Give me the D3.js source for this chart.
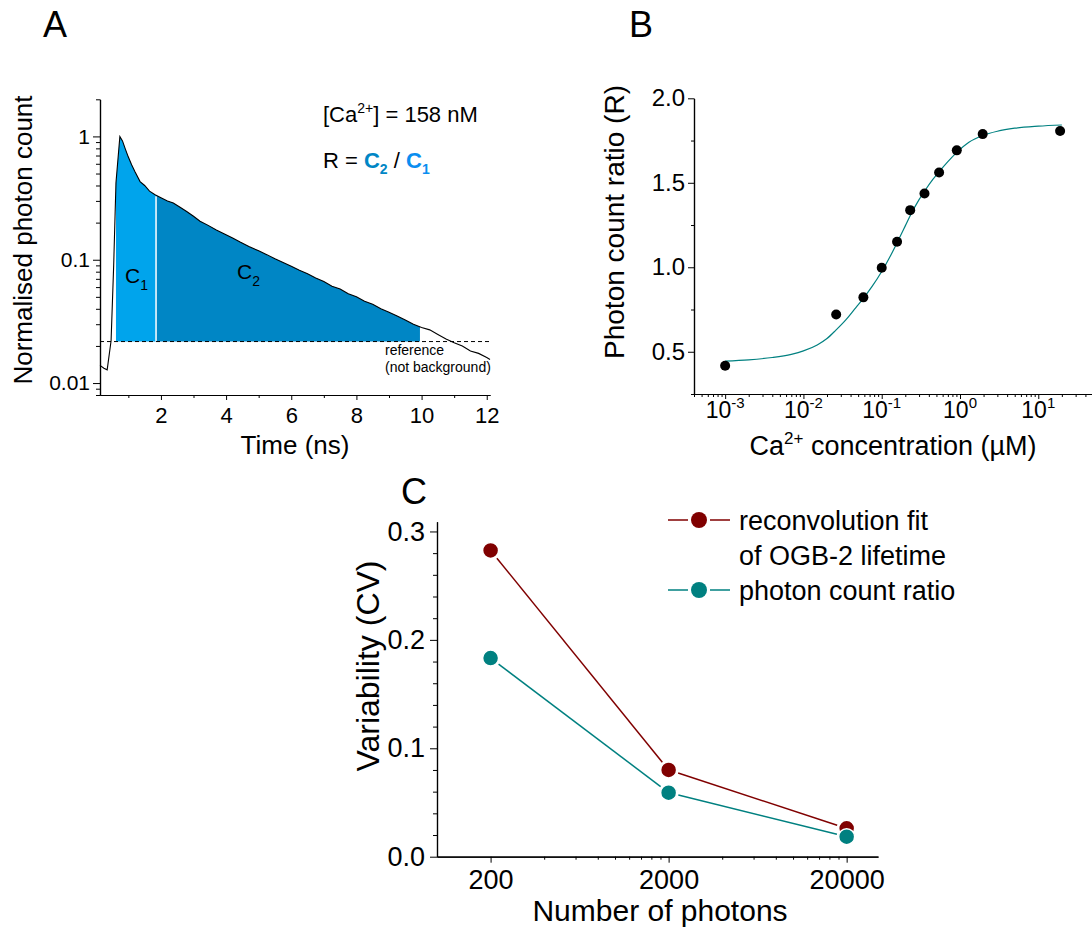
<!DOCTYPE html>
<html><head><meta charset="utf-8">
<script src="https://cdn.jsdelivr.net/npm/d3@7"></script>
<style>
body{margin:0;background:#fff}
svg{display:block}
text{font-family:"Liberation Sans",Arial,Helvetica,sans-serif;fill:#000}
</style>
</head><body>
<svg id="chart" width="1092" height="933"></svg>
<script>
// ---------------- Panel A data ----------------
const decayTime = [0.13,0.25,0.35,0.47,0.55,0.62,0.74,0.82,0.9,1.0,1.1,1.2,1.36,1.5,1.65,1.82,2.0,2.2,2.38,2.6,2.79,3.0,3.2,3.45,3.7,3.95,4.2,4.43,4.7,5.0,5.25,5.5,5.75,6.0,6.25,6.5,6.75,7.0,7.25,7.5,7.75,8.0,8.25,8.5,8.75,9.0,9.25,9.5,9.75,10.0,10.25,10.5,10.75,11.0,11.25,11.5,11.75,12.0,12.1];
const decayCount = [0.0139,0.0132,0.0128,0.022,0.09,0.42,1.0,0.92,0.80,0.68,0.59,0.52,0.43,0.40,0.36,0.336,0.318,0.30,0.288,0.265,0.246,0.225,0.205,0.19,0.174,0.162,0.15,0.139,0.128,0.118,0.110,0.102,0.095,0.0886,0.082,0.077,0.071,0.0665,0.061,0.058,0.053,0.050,0.046,0.0435,0.040,0.0375,0.035,0.0325,0.030,0.0282,0.027,0.0248,0.0228,0.0212,0.020,0.0182,0.0174,0.0161,0.0155];
const referenceLevel = 0.0217;
const c1Window = [0.62, 1.85];
const c2Window = [1.85, 9.95];
const timeTicks = [2,4,6,8,10,12];
const timeMinorTicks = [1,3,5,7,9,11];
const countTicks = [0.01,0.1,1];
const countTickLabels = ["0.01","0.1","1"];
const countMinorTicks = [0.008,0.009,0.02,0.03,0.04,0.05,0.06,0.07,0.08,0.09,0.2,0.3,0.4,0.5,0.6,0.7,0.8,0.9,2];

// ---------------- Panel B data ----------------
const caConc = [0.001,0.0262,0.0583,0.1,0.157,0.231,0.352,0.541,0.91,1.95,19];
const countRatio = [0.417,0.721,0.822,0.997,1.151,1.338,1.437,1.561,1.692,1.788,1.806];
const fitConc = [0.001,0.002,0.004,0.007,0.01,0.015,0.02,0.026,0.035,0.045,0.058,0.075,0.1,0.13,0.157,0.2,0.231,0.3,0.352,0.45,0.541,0.7,0.91,1.3,1.95,3,5,10,20];
const fitRatio = [0.445,0.452,0.466,0.485,0.505,0.54,0.578,0.628,0.69,0.752,0.815,0.885,0.975,1.07,1.145,1.245,1.305,1.40,1.45,1.52,1.565,1.625,1.68,1.74,1.78,1.805,1.823,1.835,1.842];
const ratioTicks = [0.5,1.0,1.5,2.0];
const ratioMinorTicks = [0.25,0.75,1.25,1.75];
const concTickExponents = [-3,-2,-1,0,1];

// ---------------- Panel C data ----------------
const photonCounts = [200,2000,20000];
const cvReconvolution = [0.2825,0.080,0.0262];
const cvPhotonRatio = [0.1832,0.0591,0.0185];
const cvTicks = [0.0,0.1,0.2,0.3];
const cvMinorTicks = [0.02,0.04,0.06,0.08,0.12,0.14,0.16,0.18,0.22,0.24,0.26,0.28];
const photonTicks = [200,2000,20000];
const photonMinorTicks = [400,600,800,1000,1200,1400,1600,1800,4000,6000,8000,10000,12000,14000,16000,18000];
const seriesNames = [["reconvolution fit","of OGB-2 lifetime"],["photon count ratio"]];

// colours
const lightBlue = "#00A4EC", darkBlue = "#0086C5";
const darkRed = "#800000", teal = "#008080";

const svg = d3.select("#chart");
const FONT = '"Liberation Sans",Arial,sans-serif';

function styleAxis(g, fs){
  g.selectAll("path.domain").attr("stroke","#000").attr("stroke-width",1.2);
  g.selectAll(".tick line").attr("stroke","#000").attr("stroke-width",1);
  g.selectAll(".tick text").attr("font-size",fs).attr("font-family",FONT).attr("fill","#000");
  g.attr("font-family",FONT);
}

// ============ PANEL A ============
{
  const x = d3.scaleLinear().domain([0.13,12.1]).range([100,490]);
  const y = d3.scaleLog().domain([0.008,2]).range([395,99.3]);
  const g = svg.append("g");

  const interp = t => {
    for(let i=0;i<decayTime.length-1;i++){
      if(t>=decayTime[i] && t<=decayTime[i+1]){
        const f=(t-decayTime[i])/(decayTime[i+1]-decayTime[i]);
        return Math.exp(Math.log(decayCount[i])+f*(Math.log(decayCount[i+1])-Math.log(decayCount[i])));
      }
    }
    return decayCount[decayCount.length-1];
  };
  const windowPts = ([t0,t1]) => {
    const p=[[t0,interp(t0)]];
    decayTime.forEach((t,i)=>{ if(t>t0 && t<t1) p.push([t,decayCount[i]]); });
    p.push([t1,interp(t1)]);
    return p;
  };
  const area = d3.area().x(d=>x(d[0])).y0(y(referenceLevel)).y1(d=>y(d[1]));
  g.append("path").attr("d",area(windowPts(c1Window))).attr("fill",lightBlue);
  g.append("path").attr("d",area(windowPts(c2Window))).attr("fill",darkBlue);
  g.append("line").attr("x1",x(c1Window[1])).attr("x2",x(c1Window[1]))
    .attr("y1",y(referenceLevel)).attr("y2",y(interp(c1Window[1]))+1)
    .attr("stroke","#fff").attr("stroke-width",1.5);

  // reference dashed line
  g.append("line").attr("x1",x.range()[0]).attr("x2",x.range()[1])
    .attr("y1",y(referenceLevel)).attr("y2",y(referenceLevel))
    .attr("stroke","#000").attr("stroke-width",1).attr("stroke-dasharray","4,3");

  // decay curve
  const line = d3.line().x((d,i)=>x(decayTime[i])).y(d=>y(d));
  g.append("path").attr("d",line(decayCount)).attr("fill","none").attr("stroke","#000").attr("stroke-width",1.1);

  // axes
  const gx = g.append("g").attr("transform","translate(0,395)")
    .call(d3.axisBottom(x).tickValues(timeTicks).tickSize(5).tickSizeOuter(0).tickPadding(7).tickFormat(d3.format("d")));
  styleAxis(gx,22);
  const gxm = g.append("g").attr("transform","translate(0,395)")
    .call(d3.axisBottom(x).tickValues(timeMinorTicks).tickSize(3).tickSizeOuter(0).tickFormat(""));
  styleAxis(gxm,22);
  const gy = g.append("g").attr("transform","translate(100,0)")
    .call(d3.axisLeft(y).tickValues(countTicks).tickSize(7).tickSizeOuter(0).tickPadding(3).tickFormat((d,i)=>countTickLabels[i]));
  styleAxis(gy,21);
  const gym = g.append("g").attr("transform","translate(100,0)")
    .call(d3.axisLeft(y).tickValues(countMinorTicks).tickSize(4).tickSizeOuter(0).tickFormat(""));
  styleAxis(gym,21);

  // titles
  g.append("text").attr("x",295).attr("y",454).attr("text-anchor","middle").attr("font-size",26).text("Time (ns)");
  g.append("text").attr("transform","translate(32,240) rotate(-90)").attr("text-anchor","middle").attr("font-size",26).text("Normalised photon count");

  // annotations
  const t1 = g.append("text").attr("x",323).attr("y",122).attr("font-size",22);
  t1.append("tspan").text("[Ca");
  t1.append("tspan").attr("font-size",14).attr("dy",-9).text("2+");
  t1.append("tspan").attr("dy",9).text("] = 158 nM");

  const t2 = g.append("text").attr("x",323).attr("y",168).attr("font-size",22);
  t2.append("tspan").text("R = ");
  t2.append("tspan").attr("fill",darkBlue).attr("font-weight","bold").text("C");
  t2.append("tspan").attr("fill",darkBlue).attr("font-weight","bold").attr("font-size",14).attr("dy",6).text("2");
  t2.append("tspan").attr("dy",-6).text(" / ");
  t2.append("tspan").attr("fill","#0A8EF0").attr("font-weight","bold").text("C");
  t2.append("tspan").attr("fill","#0A8EF0").attr("font-weight","bold").attr("font-size",14).attr("dy",6).text("1");

  const c1 = g.append("text").attr("x",125).attr("y",283).attr("font-size",21);
  c1.append("tspan").text("C");
  c1.append("tspan").attr("font-size",14).attr("dy",7).text("1");
  const c2 = g.append("text").attr("x",237).attr("y",279).attr("font-size",21);
  c2.append("tspan").text("C");
  c2.append("tspan").attr("font-size",14).attr("dy",7).text("2");

  g.append("text").attr("x",385).attr("y",355).attr("font-size",14).text("reference");
  g.append("text").attr("x",385).attr("y",372).attr("font-size",14).text("(not background)");

  svg.append("text").attr("x",43).attr("y",37).attr("font-size",36).text("A");
}

// ============ PANEL B ============
{
  const x = d3.scaleLog().domain([4e-4,50]).range([694,1093]);
  const y = d3.scaleLinear().domain([0.25,2.0]).range([394,98.3]);
  const g = svg.append("g");

  const minor = [];
  for(let e=-4;e<=1;e++){ for(let m=2;m<=9;m++){ const v=m*Math.pow(10,e); if(v>=4e-4 && v<=50) minor.push(v);} }

  const gx = g.append("g").attr("transform","translate(0,394)")
    .call(d3.axisBottom(x).tickValues(concTickExponents.map(e=>Math.pow(10,e))).tickSize(5).tickSizeOuter(0).tickFormat(""));
  styleAxis(gx,23);
  const gxm = g.append("g").attr("transform","translate(0,394)")
    .call(d3.axisBottom(x).tickValues(minor).tickSize(3).tickSizeOuter(0).tickFormat(""));
  styleAxis(gxm,23);
  concTickExponents.forEach(e=>{
    const t = g.append("text").attr("x",x(Math.pow(10,e))).attr("y",418).attr("text-anchor","middle").attr("font-size",23);
    t.append("tspan").text("10");
    t.append("tspan").attr("font-size",15).attr("dy",-10).text(e<0?"-"+(-e):String(e));
  });

  const gy = g.append("g").attr("transform","translate(694,0)")
    .call(d3.axisLeft(y).tickValues(ratioTicks).tickSize(6).tickSizeOuter(0).tickPadding(3).tickFormat(d3.format(".1f")));
  styleAxis(gy,24);
  const gym = g.append("g").attr("transform","translate(694,0)")
    .call(d3.axisLeft(y).tickValues(ratioMinorTicks).tickSize(3).tickSizeOuter(0).tickFormat(""));
  styleAxis(gym,24);

  const fit = d3.line().x((d,i)=>x(fitConc[i])).y(d=>y(d)).curve(d3.curveMonotoneX);
  g.append("path").attr("d",fit(fitRatio)).attr("fill","none").attr("stroke",teal).attr("stroke-width",1.2);

  g.selectAll("circle.pt").data(countRatio).enter().append("circle")
    .attr("cx",(d,i)=>x(caConc[i])).attr("cy",d=>y(d)).attr("r",5).attr("fill","#000");

  const xt = g.append("text").attr("x",893).attr("y",455).attr("text-anchor","middle").attr("font-size",27);
  xt.append("tspan").text("Ca");
  xt.append("tspan").attr("font-size",17).attr("dy",-11).text("2+");
  xt.append("tspan").attr("dy",11).text(" concentration (\u00B5M)");
  g.append("text").attr("transform","translate(624,222) rotate(-90)").attr("text-anchor","middle").attr("font-size",28).text("Photon count ratio (R)");

  svg.append("text").attr("x",629).attr("y",37).attr("font-size",36).text("B");
}

// ============ PANEL C ============
{
  const x = d3.scaleLog().domain([100,30000]).range([437,878]);
  const y = d3.scaleLinear().domain([0,0.309]).range([856.7,521.7]);
  const g = svg.append("g");

  const gx = g.append("g").attr("transform","translate(0,856.7)")
    .call(d3.axisBottom(x).tickValues(photonTicks).tickSize(6).tickSizeOuter(0).tickPadding(7).tickFormat(d3.format("d")));
  styleAxis(gx,27);
  const gxm = g.append("g").attr("transform","translate(0,856.7)")
    .call(d3.axisBottom(x).tickValues(photonMinorTicks).tickSize(3).tickSizeOuter(0).tickFormat(""));
  styleAxis(gxm,27);
  const gy = g.append("g").attr("transform","translate(437,0)")
    .call(d3.axisLeft(y).tickValues(cvTicks).tickSize(7).tickSizeOuter(0).tickPadding(5).tickFormat(d3.format(".1f")));
  styleAxis(gy,27);
  const gym = g.append("g").attr("transform","translate(437,0)")
    .call(d3.axisLeft(y).tickValues(cvMinorTicks).tickSize(4).tickSizeOuter(0).tickFormat(""));
  styleAxis(gym,27);

  const series = [{vals:cvReconvolution,color:darkRed},{vals:cvPhotonRatio,color:teal}];
  const gap = 10;
  series.forEach(s=>{
    const pts = s.vals.map((v,i)=>[x(photonCounts[i]),y(v)]);
    for(let i=0;i<pts.length-1;i++){
      const [x0,y0]=pts[i],[x1,y1]=pts[i+1];
      const L=Math.hypot(x1-x0,y1-y0), ux=(x1-x0)/L, uy=(y1-y0)/L;
      g.append("line").attr("x1",x0+ux*gap).attr("y1",y0+uy*gap).attr("x2",x1-ux*gap).attr("y2",y1-uy*gap)
        .attr("stroke",s.color).attr("stroke-width",1.5);
    }
  });
  series.forEach(s=>{
    g.selectAll(null).data(s.vals).enter().append("circle")
      .attr("cx",(d,i)=>x(photonCounts[i])).attr("cy",d=>y(d)).attr("r",8)
      .attr("fill",s.color).attr("stroke","#fff").attr("stroke-width",1.5);
  });

  // legend
  const legY = [520,590];
  series.forEach((s,k)=>{
    g.append("line").attr("x1",668).attr("x2",688).attr("y1",legY[k]).attr("y2",legY[k]).attr("stroke",s.color).attr("stroke-width",1.5);
    g.append("line").attr("x1",710).attr("x2",730).attr("y1",legY[k]).attr("y2",legY[k]).attr("stroke",s.color).attr("stroke-width",1.5);
    g.append("circle").attr("cx",699).attr("cy",legY[k]).attr("r",8).attr("fill",s.color);
    seriesNames[k].forEach((txt,j)=>{
      g.append("text").attr("x",739).attr("y",legY[k]+10+j*35).attr("font-size",27).text(txt);
    });
  });

  g.append("text").attr("x",660).attr("y",921).attr("text-anchor","middle").attr("font-size",30).text("Number of photons");
  g.append("text").attr("transform","translate(379,666) rotate(-90)").attr("text-anchor","middle").attr("font-size",32).text("Variability (CV)");

  svg.append("text").attr("x",401).attr("y",504).attr("font-size",36).text("C");
}
</script>
</body></html>
